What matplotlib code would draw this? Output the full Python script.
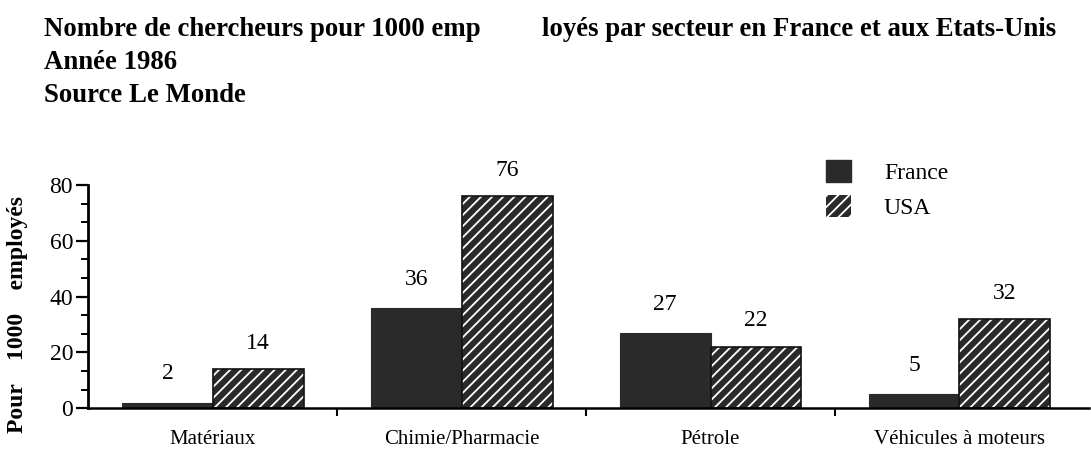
import numpy as np
import matplotlib
matplotlib.use('Agg')
import matplotlib.pyplot as plt
from matplotlib.ticker import MultipleLocator, AutoMinorLocator
from matplotlib.patches import Patch

plt.rcParams['font.family'] = ['Liberation Serif', 'DejaVu Serif']
plt.rcParams['hatch.linewidth'] = 1.3

# donnees
secteurs = ['Matériaux', 'Chimie/Pharmacie', 'Pétrole', 'Véhicules à moteurs']
france = [2, 36, 27, 5]
usa = [14, 76, 22, 32]

fig = plt.figure(figsize=(10.91, 4.57), dpi=100)
ax = fig.add_axes([0.081, 0.107, 0.917, 0.488])

x = np.arange(len(secteurs))
w = 0.365
dark = '#2a2a2a'

ax.bar(x - w / 2, france, w, color=dark, edgecolor=dark, linewidth=0.8)
# barres USA : fond sombre + hachures blanches, puis contour noir
ax.bar(x + w / 2, usa, w, color=dark, edgecolor='white', hatch='///', linewidth=0)
ax.bar(x + w / 2, usa, w, facecolor='none', edgecolor='#111111', linewidth=1.2)

for xi, v in zip(x - w / 2, france):
    ax.annotate(str(v), (xi, v), xytext=(0, 13), textcoords='offset points',
                ha='center', va='bottom', fontsize=17)
for xi, v in zip(x + w / 2, usa):
    ax.annotate(str(v), (xi, v), xytext=(0, 11), textcoords='offset points',
                ha='center', va='bottom', fontsize=17)

ax.set_xlim(-0.5, 3.52)
ax.set_ylim(0, 80)
ax.yaxis.set_major_locator(MultipleLocator(20))
ax.yaxis.set_minor_locator(AutoMinorLocator(3))
ax.set_xticks(x)
ax.set_xticklabels(secteurs, fontsize=15)
ax.set_xticks(np.arange(len(secteurs) - 1) + 0.5, minor=True)
ax.tick_params(axis='x', which='major', length=0, pad=16)
ax.tick_params(axis='x', which='minor', length=6, width=1.5, direction='out')
ax.tick_params(axis='y', which='major', length=9, width=1.6, labelsize=17, pad=2)
ax.tick_params(axis='y', which='minor', length=5, width=1.4)

for s in ['top', 'right']:
    ax.spines[s].set_visible(False)
ax.spines['left'].set_linewidth(2)
ax.spines['bottom'].set_linewidth(1.8)
ax.spines['left'].set_bounds(0, 80)

ax.set_ylabel('Pour    1000    employés', fontsize=17, fontweight='bold')
ax.yaxis.set_label_coords(-0.06, 0.42)

handles = [Patch(facecolor=dark, edgecolor=dark),
           Patch(facecolor=dark, edgecolor='white', hatch='///', linewidth=0)]
leg = fig.legend(handles, ['France', 'USA'], loc='upper left',
                 bbox_to_anchor=(0.742, 0.685), frameon=False, fontsize=17,
                 handlelength=1.05, handleheight=1.05, handletextpad=1.4,
                 labelspacing=0.45, borderpad=0.2)

fig.text(0.040, 0.921, 'Nombre de chercheurs pour 1000 emp', fontsize=19.3,
         fontweight='bold', va='baseline')
fig.text(0.497, 0.921, 'loyés par secteur en France et aux Etats-Unis',
         fontsize=19.3, fontweight='bold', va='baseline')
fig.text(0.040, 0.849, 'Année 1986', fontsize=19.3, fontweight='bold',
         va='baseline')
fig.text(0.040, 0.777, 'Source Le Monde', fontsize=19.3, fontweight='bold',
         va='baseline')

fig.savefig('out.png', dpi=100)
